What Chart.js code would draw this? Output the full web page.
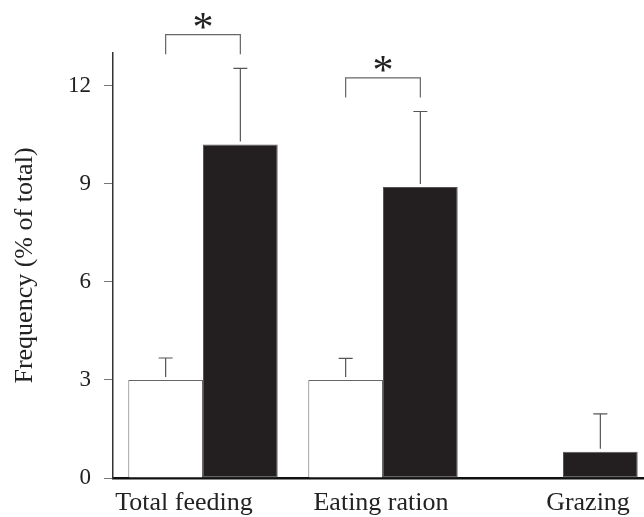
<!DOCTYPE html>
<html lang="en">
<head>
    <meta charset="UTF-8">
    <title>Feeding frequency</title>
    <script src="https://cdn.jsdelivr.net/npm/chart.js@4/dist/chart.umd.min.js"></script>
    <style>
        html, body {
            margin: 0;
            padding: 0;
            background: #fff;
            overflow: hidden;
        }
        #wrap {
            width: 660px;
            height: 517px;
        }
    </style>
</head>
<body>
    <div id="wrap"><canvas id="chart" width="660" height="517"></canvas></div>

    <script>
        // values
        const categories = ['Total feeding', 'Eating ration', 'Grazing'];
        const openValues = [3.0, 3.0, null];
        const filledValues = [10.2, 8.9, 0.8];
        const openErrTop = [3.67, 3.66, null];
        const filledErrTop = [12.53, 11.21, 1.96];
        const significant = [true, true, false];
        const yTicks = [0, 3, 6, 9, 12];

        const serif = '"Liberation Serif", "Times New Roman", serif';
        const errTops = [openErrTop, filledErrTop];

        // upper-only error bars, brackets with asterisks and the category labels
        const extras = {
            id: 'extras',
            afterDatasetsDraw(chart) {
                const ctx = chart.ctx;
                const y = chart.scales.y;
                const x = chart.scales.x;
                ctx.save();
                ctx.strokeStyle = '#555';
                ctx.lineWidth = 1.2;
                errTops.forEach((tops, d) => {
                    const meta = chart.getDatasetMeta(d);
                    tops.forEach((top, i) => {
                        if (top == null) return;
                        const bar = meta.data[i];
                        const yt = y.getPixelForValue(top);
                        ctx.beginPath();
                        ctx.moveTo(bar.x, bar.y - 3);
                        ctx.lineTo(bar.x, yt);
                        ctx.moveTo(bar.x - 7, yt);
                        ctx.lineTo(bar.x + 7, yt);
                        ctx.stroke();
                    });
                });

                // significance brackets
                ctx.strokeStyle = '#666';
                ctx.fillStyle = '#222';
                significant.forEach((sig, i) => {
                    if (!sig) return;
                    const a = chart.getDatasetMeta(0).data[i];
                    const b = chart.getDatasetMeta(1).data[i];
                    const top = Math.max(openErrTop[i], filledErrTop[i]);
                    const yl = y.getPixelForValue(top + 1.03);
                    const ye = y.getPixelForValue(top + 0.43);
                    ctx.beginPath();
                    ctx.moveTo(a.x, ye);
                    ctx.lineTo(a.x, yl);
                    ctx.lineTo(b.x, yl);
                    ctx.lineTo(b.x, ye);
                    ctx.stroke();
                    ctx.font = '42px ' + serif;
                    ctx.textAlign = 'center';
                    ctx.textBaseline = 'alphabetic';
                    const m = ctx.measureText('*');
                    const mid = (m.actualBoundingBoxAscent - m.actualBoundingBoxDescent) / 2;
                    ctx.fillText('*', (a.x + b.x) / 2, yl - 14 + mid);
                });

                // category labels, set by hand in the original figure
                const shift = [-19, -2, 25];
                ctx.font = '26px ' + serif;
                ctx.textAlign = 'center';
                ctx.textBaseline = 'alphabetic';
                categories.forEach((c, i) => {
                    ctx.fillText(c, x.getPixelForValue(i) + shift[i], 510);
                });
                ctx.restore();
            }
        };

        new Chart(document.getElementById('chart'), {
            type: 'bar',
            data: {
                labels: categories,
                datasets: [{
                    label: 'Open',
                    data: openValues,
                    backgroundColor: '#ffffff',
                    borderColor: '#666',
                    borderWidth: { top: 1, left: 1, right: 1, bottom: 0 },
                    borderSkipped: false
                }, {
                    label: 'Filled',
                    data: filledValues,
                    backgroundColor: '#231f20',
                    borderColor: '#555',
                    borderWidth: 1,
                    borderSkipped: false
                }]
            },
            options: {
                responsive: false,
                animation: false,
                layout: { padding: { top: 53, left: 10, right: 7, bottom: 0 } },
                categoryPercentage: 0.83,
                barPercentage: 1.0,
                plugins: {
                    legend: { display: false },
                    tooltip: { enabled: false }
                },
                scales: {
                    x: {
                        grid: { display: false },
                        border: { display: true, color: '#111', width: 2.5 },
                        ticks: { display: false },
                        afterFit(s) { s.height = 39; }
                    },
                    y: {
                        min: 0,
                        max: 13,
                        afterBuildTicks(s) { s.ticks = yTicks.map(v => ({ value: v })); },
                        ticks: {
                            font: { family: serif, size: 23 },
                            color: '#222',
                            padding: 13
                        },
                        grid: {
                            drawOnChartArea: false,
                            drawTicks: true,
                            tickLength: 9,
                            color: '#777'
                        },
                        border: { display: true, color: '#333', width: 1.5 },
                        title: {
                            display: true,
                            text: 'Frequency (% of total)',
                            font: { family: serif, size: 26 },
                            color: '#222',
                            padding: 0
                        },
                        afterFit(s) { s.width = 103; }
                    }
                }
            },
            plugins: [extras]
        });
    </script>
</body>
</html>
